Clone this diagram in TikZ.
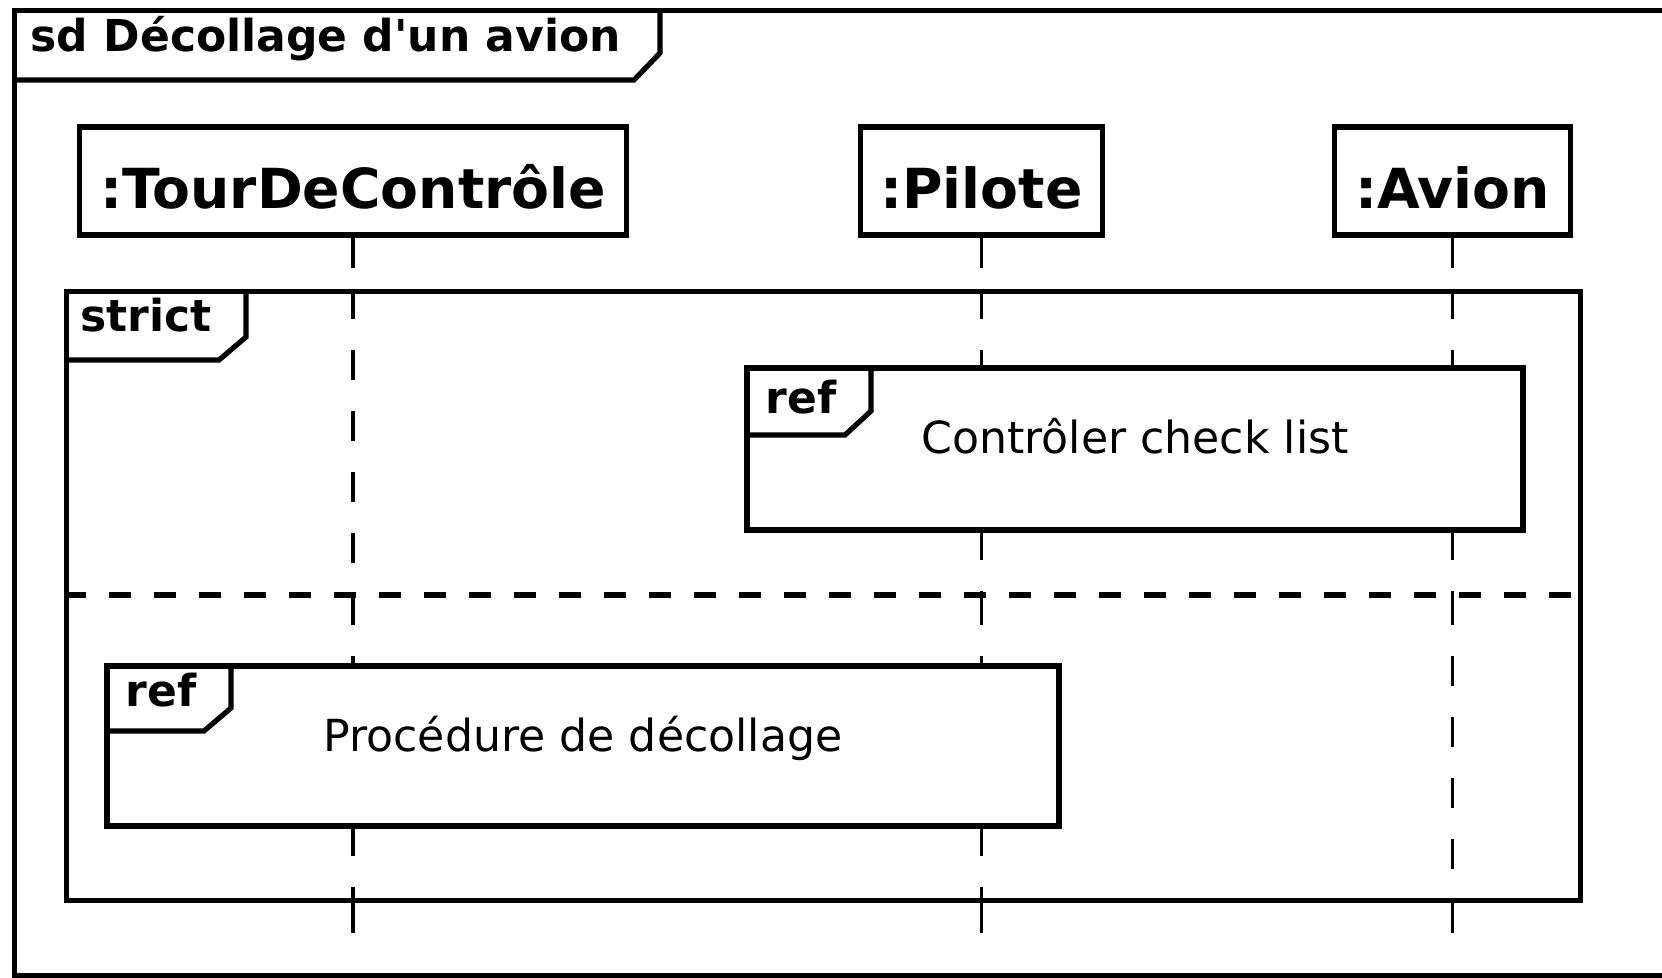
\documentclass[tikz,border=0pt]{standalone}
\usepackage{fontspec}
\setmainfont{DejaVu Sans}[Ligatures=TeXOff]
\begin{document}
\begin{tikzpicture}[x=0.25pt,y=-0.25pt, line join=miter,
  frameline/.style={line width=1.3pt},
  life/.style={line width=0.95pt, dash pattern=on 7.5pt off 7.75pt},
  sepline/.style={line width=1.3pt, dash pattern=on 5.5pt off 5.75pt},
  headbox/.style={draw, frameline, fill=white, inner sep=0pt, anchor=base,
    font=\bfseries\fontsize{13.8pt}{16pt}\selectfont,
    text height=20.25pt, text depth=6.75pt},
  refbox/.style={draw, frameline, fill=white, inner sep=0pt, anchor=base,
    font=\fontsize{11.05pt}{13pt}\selectfont},
  tablabel/.style={inner sep=0pt, anchor=base west,
    font=\bfseries\fontsize{11pt}{13pt}\selectfont},
  emptyframe/.style={draw, frameline, inner sep=0pt, anchor=north west}]
\useasboundingbox (0,0) rectangle (1662,977);

% outer sd frame
\node[emptyframe, minimum width=415.75pt, minimum height=241.25pt] (sd) at (12,8) {};
\draw[frameline] (660,8) -- (660,53) -- (634,80) -- (12,80);
\node[tablabel] (title) at (30,51) {sd Décollage d'un avion};

% lifeline heads
\node[headbox, minimum width=136.75pt] (tour) at (353,208) {:TourDeContrôle};
\node[headbox, minimum width=60.5pt] (pilote) at (981.5,208) {:Pilote};
\node[headbox, minimum width=59.1pt] (avion) at (1452.5,208) {:Avion};

% strict combined fragment
\node[emptyframe, minimum width=378.5pt, minimum height=152.25pt] (strict) at (64,289) {};
\draw[frameline] (246,289) -- (246,337) -- (219,360) -- (64,360);
\node[tablabel] (strictlbl) at (79.5,331) {strict};

\coordinate (sepL) at (64,595);
\coordinate (sepR) at (1578,595);
\draw[sepline] (sepL) -- (sepR);

% reference boxes (positions used by lifelines)
\coordinate (r1top) at (0,368);
\coordinate (r1bot) at (0,530);
\coordinate (r2top) at (0,666);
\coordinate (r2bot) at (0,826);
\coordinate (lend) at (0,933);

% lifelines
\foreach \h in {tour,pilote,avion} {
  \draw[life] (\h.south) -- (\h.south |- strict.north);
  \draw[life] (\h.south |- strict.south) -- (\h.south |- lend);
}
\draw[life] (tour.south |- strict.north) -- (tour.south |- sepL);
\draw[life] (tour.south |- sepL) -- (tour.south |- r2top);
\draw[life] (tour.south |- r2bot) -- (tour.south |- strict.south);

\draw[life] (pilote.south |- strict.north) -- (pilote.south |- r1top);
\draw[life] (pilote.south |- r1bot) -- (pilote.south |- sepL);
\draw[life] (pilote.south |- sepL) -- (pilote.south |- r2top);
\draw[life] (pilote.south |- r2bot) -- (pilote.south |- strict.south);

\draw[life] (avion.south |- strict.north) -- (avion.south |- r1top);
\draw[life] (avion.south |- r1bot) -- (avion.south |- sepL);
\draw[life] (avion.south |- sepL) -- (avion.south |- strict.south);

% ref 1
\node[refbox, minimum width=194pt, text height=21.25pt, text depth=19.25pt] (ref1) at (1135,453) {Contrôler check list};
\draw[frameline] (871,368) -- (871,411) -- (845,435) -- (747,435);
\node[tablabel] (ref1lbl) at (765,413) {ref};

% ref 2
\node[refbox, minimum width=238pt, text height=21.25pt, text depth=18.75pt] (ref2) at (583,751) {Procédure de décollage};
\draw[frameline] (231,666) -- (231,708) -- (204,731) -- (107,731);
\node[tablabel] (ref2lbl) at (125,706) {ref};
\end{tikzpicture}
\end{document}
